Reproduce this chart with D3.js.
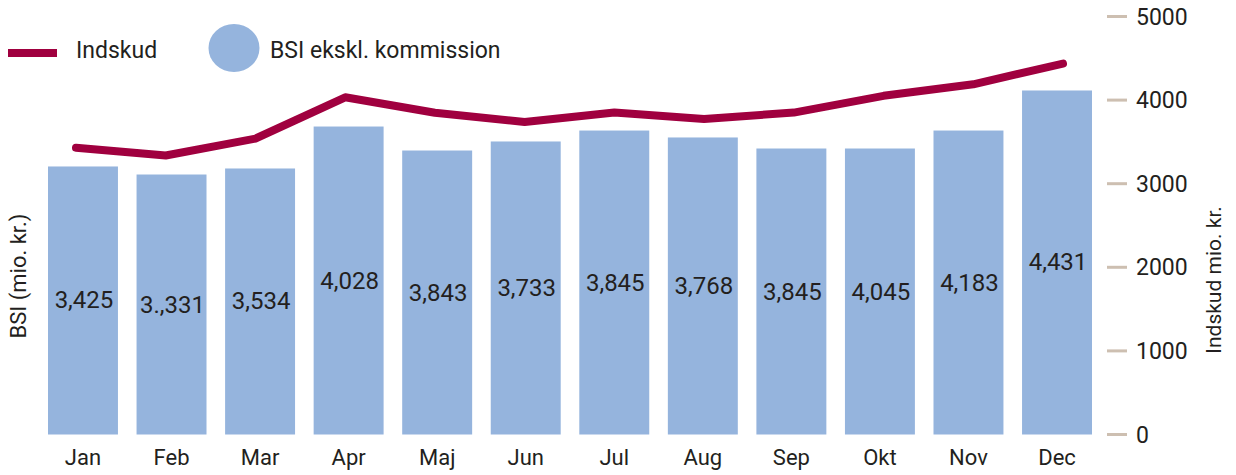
<!DOCTYPE html>
<html>
<head>
<meta charset="utf-8">
<script src="https://cdn.jsdelivr.net/npm/d3@7"></script>
<style>
  html, body { margin: 0; padding: 0; background: #fff; }
  svg { display: block; font-family: Roboto, "Noto Sans", sans-serif; }
</style>
</head>
<body>
<svg id="chart" width="1236" height="475"></svg>
<script>
const months = ["Jan","Feb","Mar","Apr","Maj","Jun","Jul","Aug","Sep","Okt","Nov","Dec"];
const bsi = [3206, 3110, 3182, 3684, 3397, 3505, 3636, 3553, 3421, 3421, 3636, 4115];
const indskud = [3425, 3331, 3534, 4028, 3843, 3733, 3845, 3768, 3845, 4045, 4183, 4431];
const indskudLabels = ["3,425","3.,331","3,534","4,028","3,843","3,733","3,845","3,768","3,845","4,045","4,183","4,431"];
const rightTicks = [0, 1000, 2000, 3000, 4000, 5000];

const barColor = "#95b4dd";
const lineColor = "#a0003f";
const textColor = "#231f20";
const tickColor = "#cdbfb1";

const svg = d3.select("#chart");

const x = d3.scaleBand().domain(months).range([38.7, 1101.3]).paddingInner(0.21).paddingOuter(0.105);
const xLine = d3.scalePoint().domain(months).range([76, 1063]);
const yRight = d3.scaleLinear().domain([0, 5000]).range([434, 16]);
const yBsi = d3.scaleLinear().domain([0, 5000]).range([434.5, 16.5]);

// bars
svg.append("g").selectAll("rect").data(months).join("rect")
  .attr("x", d => x(d))
  .attr("width", x.bandwidth())
  .attr("y", (d, i) => yBsi(bsi[i]))
  .attr("height", (d, i) => yBsi(0) - yBsi(bsi[i]))
  .attr("fill", barColor);

// bar labels (Indskud values)
svg.append("g").selectAll("text").data(months).join("text")
  .attr("x", d => x(d) + x.bandwidth() / 2 + 1)
  .attr("y", (d, i) => (yBsi(bsi[i]) + yBsi(0)) / 2)
  .attr("text-anchor", "middle")
  .attr("dominant-baseline", "central")
  .attr("font-size", 24)
  .attr("fill", textColor)
  .text((d, i) => indskudLabels[i]);

// line
const line = d3.line().x(d => xLine(d.m)).y(d => yRight(d.v));
svg.append("path")
  .datum(months.map((m, i) => ({ m, v: indskud[i] })))
  .attr("d", line)
  .attr("fill", "none")
  .attr("stroke", lineColor)
  .attr("stroke-width", 8)
  .attr("stroke-linecap", "round")
  .attr("stroke-linejoin", "round");

// x axis labels
svg.append("g").selectAll("text").data(months).join("text")
  .attr("x", d => x(d) + x.bandwidth() / 2)
  .attr("y", 465)
  .attr("text-anchor", "middle")
  .attr("font-size", 22)
  .attr("fill", textColor)
  .text(d => d);

// right axis
const rAxis = d3.axisRight(yRight).tickValues(rightTicks).tickSize(20).tickPadding(9).tickFormat(d3.format("d"));
const rg = svg.append("g").attr("transform", "translate(1107,0)").call(rAxis);
rg.select(".domain").remove();
rg.selectAll(".tick line").attr("stroke", tickColor).attr("stroke-width", 3);
rg.selectAll(".tick text").attr("font-size", 23).attr("fill", textColor)
  .attr("font-family", "Roboto, 'Noto Sans', sans-serif").attr("dy", "0.35em");

// axis titles
svg.append("text")
  .attr("transform", "translate(26,276) rotate(-90)")
  .attr("text-anchor", "middle")
  .attr("font-size", 22)
  .attr("fill", textColor)
  .text("BSI (mio. kr.)");
svg.append("text")
  .attr("transform", "translate(1221,280) rotate(-90)")
  .attr("text-anchor", "middle")
  .attr("font-size", 21)
  .attr("fill", textColor)
  .text("Indskud mio. kr.");

// legend
const lg = svg.append("g");
lg.append("line").attr("x1", 8).attr("x2", 57).attr("y1", 53).attr("y2", 53)
  .attr("stroke", lineColor).attr("stroke-width", 8);
lg.append("text").attr("x", 76).attr("y", 58).attr("font-size", 23).attr("fill", textColor).text("Indskud");
lg.append("ellipse").attr("cx", 234).attr("cy", 48).attr("rx", 25.5).attr("ry", 24).attr("fill", barColor);
lg.append("text").attr("x", 270).attr("y", 58).attr("font-size", 23).attr("fill", textColor).text("BSI ekskl. kommission");
</script>
</body>
</html>
